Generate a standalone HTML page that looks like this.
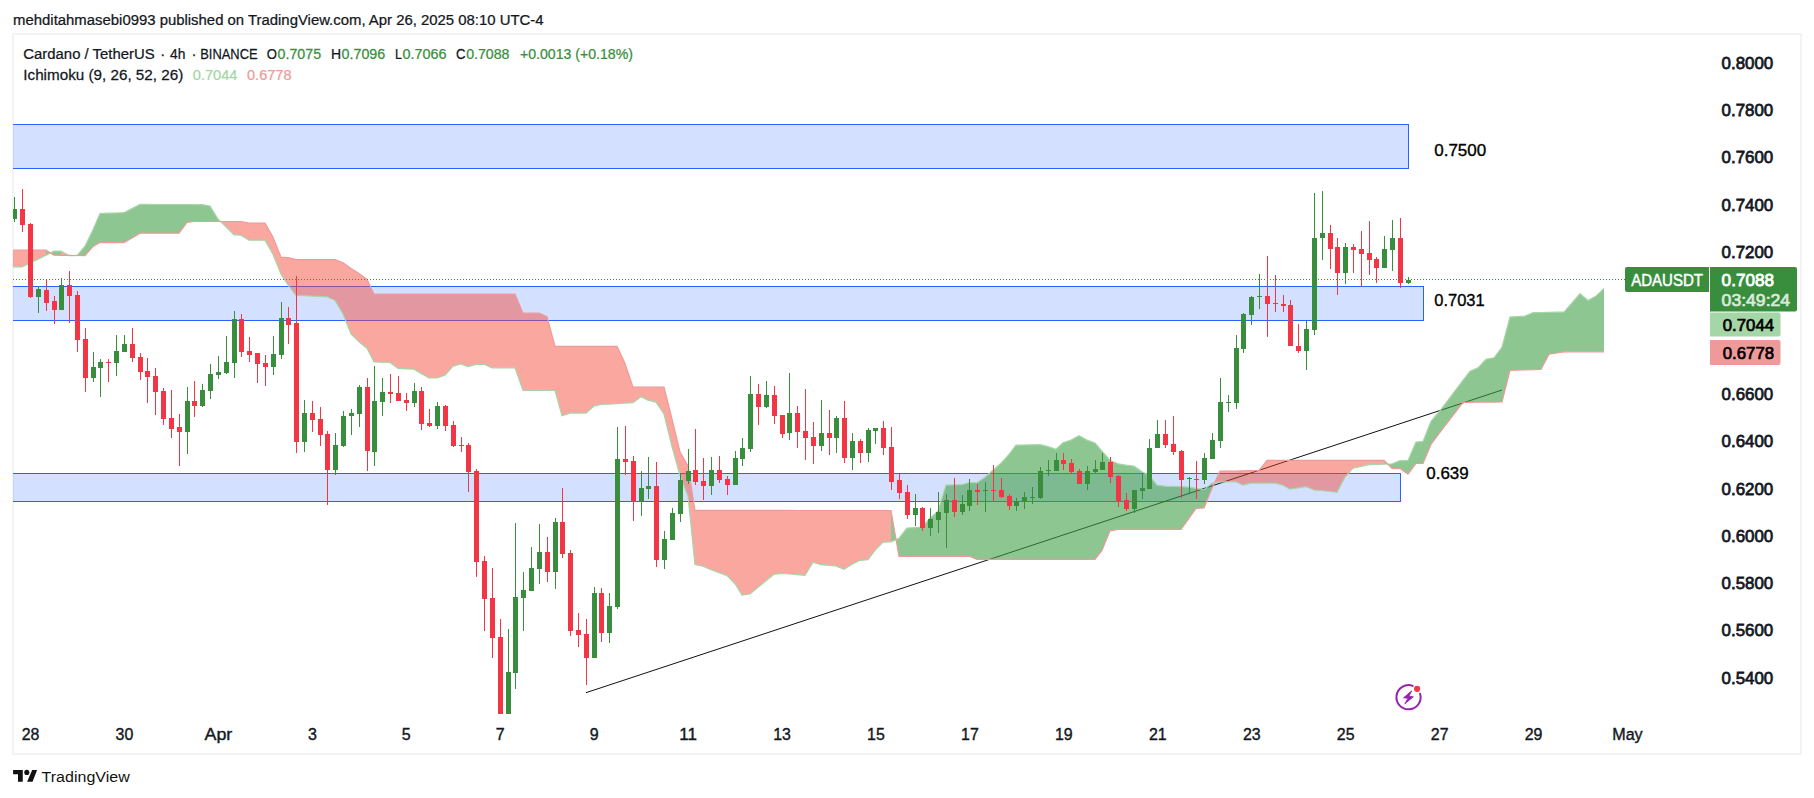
<!DOCTYPE html>
<html lang="en"><head><meta charset="utf-8"><title>ADAUSDT chart</title><style>html,body{margin:0;padding:0;background:#fff}body{width:1814px;height:798px;overflow:hidden}</style></head><body>
<svg width="1814" height="798" viewBox="0 0 1814 798" style="display:block">
<rect width="1814" height="798" fill="#fff"/>
<defs><clipPath id="pane"><rect x="13" y="34" width="1700" height="680"/></clipPath></defs>
<rect x="13" y="34" width="1788" height="720" fill="none" stroke="#F3F3F4" stroke-width="2"/>
<g clip-path="url(#pane)">
<rect x="0.5" y="124.5" width="1408" height="44" fill="rgba(41,98,255,0.2)" stroke="#2962FF" stroke-width="1" shape-rendering="crispEdges"/>
<rect x="0.5" y="286.5" width="1423" height="34" fill="rgba(41,98,255,0.2)" stroke="#2962FF" stroke-width="1" shape-rendering="crispEdges"/>
<rect x="0.5" y="473.5" width="1400" height="28" fill="rgba(41,98,255,0.2)" stroke="#2962FF" stroke-width="1" shape-rendering="crispEdges"/>
<line x1="586" y1="692.7" x2="1502" y2="390" stroke="#111" stroke-width="1"/>
<polygon points="7.0,266.9 14.0,266.9 22.0,266.9 30.0,263.0 38.0,259.1 46.0,255.2 46.0,250.2 38.0,250.2 30.0,250.2 22.0,250.2 14.0,250.2 7.0,250.2" fill="rgba(244,67,54,0.47)"/>
<polygon points="46.0,255.2 54.0,251.2 61.0,251.2 61.0,255.3 54.0,255.2 46.0,250.2" fill="rgba(67,160,71,0.6)"/>
<polygon points="61.0,251.2 69.0,255.6 77.0,255.6 77.0,255.5 69.0,255.4 61.0,255.3" fill="rgba(244,67,54,0.47)"/>
<polygon points="77.0,255.6 85.0,246.2 93.0,229.8 100.0,213.5 108.0,213.2 116.0,213.0 124.0,212.7 132.0,208.6 140.0,204.4 147.0,204.4 155.0,204.5 163.0,204.5 171.0,204.5 179.0,204.5 187.0,204.5 194.0,204.6 202.0,204.6 210.0,206.1 218.0,219.1 218.0,221.5 210.0,221.5 202.0,221.5 194.0,221.5 187.0,222.5 179.0,233.2 171.0,233.2 163.0,233.2 155.0,233.2 147.0,233.2 140.0,233.2 132.0,237.9 124.0,242.6 116.0,242.6 108.0,242.6 100.0,242.6 93.0,246.6 85.0,255.6 77.0,255.5" fill="rgba(67,160,71,0.6)"/>
<polygon points="218.0,219.1 226.0,226.9 234.0,234.8 241.0,235.2 249.0,240.2 257.0,240.2 265.0,240.2 273.0,254.2 281.0,274.3 288.0,284.8 296.0,295.3 304.0,295.7 312.0,296.1 320.0,296.4 327.0,296.8 335.0,300.4 343.0,314.0 351.0,334.0 359.0,341.9 367.0,348.3 374.0,362.0 382.0,362.2 390.0,362.4 398.0,368.4 406.0,368.8 414.0,369.2 421.0,373.6 429.0,378.0 437.0,378.0 445.0,375.2 453.0,366.2 461.0,364.0 468.0,366.6 476.0,364.4 484.0,364.2 492.0,367.8 500.0,367.8 508.0,367.8 515.0,367.8 523.0,390.3 531.0,390.4 539.0,390.4 547.0,390.4 555.0,390.5 562.0,415.8 570.0,413.1 578.0,413.1 586.0,413.1 594.0,406.1 601.0,404.5 609.0,404.1 617.0,403.6 625.0,403.1 633.0,402.7 641.0,396.7 648.0,400.1 656.0,402.1 664.0,414.0 672.0,446.5 680.0,475.5 688.0,496.0 695.0,564.5 703.0,566.2 711.0,569.7 719.0,572.7 727.0,575.6 735.0,583.8 742.0,595.0 750.0,594.0 758.0,587.3 766.0,580.8 774.0,574.3 782.0,573.3 789.0,574.0 797.0,574.6 805.0,575.3 813.0,562.3 821.0,564.7 829.0,565.3 836.0,565.9 844.0,569.3 852.0,564.3 860.0,560.3 868.0,559.7 875.0,550.3 883.0,542.2 891.0,541.8 891.0,510.5 883.0,510.5 875.0,510.5 868.0,510.5 860.0,510.5 852.0,510.5 844.0,510.5 836.0,510.5 829.0,510.5 821.0,510.5 813.0,510.5 805.0,510.5 797.0,510.5 789.0,510.4 782.0,510.4 774.0,510.4 766.0,510.4 758.0,510.4 750.0,510.4 742.0,510.4 735.0,510.4 727.0,510.4 719.0,510.4 711.0,510.4 703.0,510.4 695.0,510.4 688.0,466.0 680.0,452.0 672.0,419.0 664.0,387.2 656.0,387.2 648.0,387.2 641.0,387.2 633.0,387.2 625.0,363.4 617.0,346.3 609.0,346.3 601.0,346.3 594.0,346.3 586.0,346.3 578.0,346.3 570.0,346.3 562.0,346.3 555.0,346.3 547.0,316.6 539.0,313.2 531.0,313.2 523.0,313.2 515.0,294.2 508.0,294.2 500.0,294.2 492.0,294.2 484.0,294.2 476.0,294.2 468.0,294.2 461.0,294.2 453.0,294.2 445.0,294.2 437.0,294.2 429.0,294.2 421.0,294.2 414.0,294.2 406.0,294.2 398.0,294.2 390.0,294.2 382.0,294.2 374.0,294.2 367.0,279.5 359.0,273.6 351.0,268.4 343.0,262.7 335.0,259.6 327.0,259.6 320.0,259.6 312.0,259.6 304.0,259.6 296.0,259.6 288.0,257.6 281.0,257.2 273.0,237.2 265.0,223.1 257.0,223.1 249.0,223.1 241.0,221.5 234.0,221.5 226.0,221.5 218.0,221.5" fill="rgba(244,67,54,0.47)"/>
<polygon points="891.0,541.8 899.0,538.2 907.0,528.2 915.0,527.7 922.0,527.2 930.0,518.2 938.0,511.1 946.0,485.1 954.0,484.9 962.0,484.6 969.0,482.7 977.0,482.7 985.0,477.3 993.0,470.3 1001.0,463.3 1009.0,454.3 1016.0,445.2 1024.0,445.0 1032.0,444.8 1040.0,444.6 1048.0,446.6 1056.0,449.3 1063.0,442.8 1071.0,440.1 1079.0,435.7 1087.0,440.1 1095.0,443.1 1102.0,451.1 1110.0,460.2 1118.0,463.8 1126.0,465.2 1134.0,466.2 1142.0,471.8 1149.0,475.2 1157.0,485.2 1165.0,486.2 1173.0,486.4 1181.0,486.6 1189.0,487.2 1196.0,488.4 1204.0,489.7 1212.0,483.2 1212.0,488.2 1204.0,507.9 1196.0,508.3 1189.0,518.3 1181.0,529.4 1173.0,529.4 1165.0,529.4 1157.0,529.4 1149.0,529.4 1142.0,529.4 1134.0,529.4 1126.0,529.4 1118.0,529.4 1110.0,530.8 1102.0,550.4 1095.0,559.4 1087.0,559.4 1079.0,559.4 1071.0,559.4 1063.0,559.4 1056.0,559.4 1048.0,559.4 1040.0,559.4 1032.0,559.3 1024.0,559.3 1016.0,559.3 1009.0,559.3 1001.0,559.3 993.0,559.3 985.0,559.3 977.0,559.3 969.0,556.3 962.0,556.3 954.0,556.3 946.0,556.3 938.0,556.3 930.0,556.3 922.0,556.3 915.0,556.3 907.0,556.3 899.0,556.3 891.0,510.5" fill="rgba(67,160,71,0.6)"/>
<polygon points="1212.0,483.2 1220.0,481.8 1228.0,481.8 1236.0,481.8 1243.0,485.2 1251.0,483.2 1259.0,483.2 1267.0,483.2 1275.0,483.2 1283.0,485.2 1290.0,489.2 1298.0,487.9 1306.0,486.6 1314.0,489.9 1322.0,490.7 1330.0,491.5 1337.0,492.3 1345.0,477.2 1353.0,468.2 1361.0,466.4 1369.0,464.6 1376.0,464.4 1384.0,464.1 1384.0,460.4 1376.0,460.4 1369.0,460.4 1361.0,460.4 1353.0,460.4 1345.0,460.4 1337.0,460.4 1330.0,460.4 1322.0,460.4 1314.0,460.4 1306.0,460.4 1298.0,460.4 1290.0,460.4 1283.0,460.4 1275.0,460.4 1267.0,460.4 1259.0,470.6 1251.0,470.7 1243.0,470.8 1236.0,471.0 1228.0,471.1 1220.0,471.2 1212.0,488.2" fill="rgba(244,67,54,0.47)"/>
<polygon points="1384.0,464.1 1392.0,464.0 1400.0,460.6 1408.0,460.6 1416.0,442.0 1423.0,441.5 1431.0,421.4 1439.0,412.0 1447.0,401.5 1455.0,390.9 1463.0,380.3 1470.0,371.3 1478.0,367.9 1486.0,359.2 1494.0,357.8 1502.0,347.2 1510.0,317.1 1517.0,316.6 1525.0,316.1 1533.0,312.7 1541.0,312.5 1549.0,312.4 1557.0,312.2 1564.0,312.1 1572.0,302.9 1580.0,293.7 1588.0,300.5 1596.0,296.1 1604.0,288.5 1604.0,351.8 1596.0,351.8 1588.0,351.8 1580.0,351.8 1572.0,351.8 1564.0,351.8 1557.0,353.0 1549.0,354.2 1541.0,369.3 1533.0,369.6 1525.0,369.8 1517.0,370.1 1510.0,370.3 1502.0,402.0 1494.0,402.1 1486.0,402.2 1478.0,402.2 1470.0,402.3 1463.0,402.4 1455.0,412.8 1447.0,423.2 1439.0,433.6 1431.0,444.4 1423.0,463.5 1416.0,463.5 1408.0,474.1 1400.0,468.6 1392.0,468.4 1384.0,460.4" fill="rgba(67,160,71,0.6)"/>
<polyline points="7.0,266.9 14.0,266.9 22.0,266.9 30.0,263.0 38.0,259.1 46.0,255.2 54.0,251.2 61.0,251.2 69.0,255.6 77.0,255.6 85.0,246.2 93.0,229.8 100.0,213.5 108.0,213.2 116.0,213.0 124.0,212.7 132.0,208.6 140.0,204.4 147.0,204.4 155.0,204.5 163.0,204.5 171.0,204.5 179.0,204.5 187.0,204.5 194.0,204.6 202.0,204.6 210.0,206.1 218.0,219.1 226.0,226.9 234.0,234.8 241.0,235.2 249.0,240.2 257.0,240.2 265.0,240.2 273.0,254.2 281.0,274.3 288.0,284.8 296.0,295.3 304.0,295.7 312.0,296.1 320.0,296.4 327.0,296.8 335.0,300.4 343.0,314.0 351.0,334.0 359.0,341.9 367.0,348.3 374.0,362.0 382.0,362.2 390.0,362.4 398.0,368.4 406.0,368.8 414.0,369.2 421.0,373.6 429.0,378.0 437.0,378.0 445.0,375.2 453.0,366.2 461.0,364.0 468.0,366.6 476.0,364.4 484.0,364.2 492.0,367.8 500.0,367.8 508.0,367.8 515.0,367.8 523.0,390.3 531.0,390.4 539.0,390.4 547.0,390.4 555.0,390.5 562.0,415.8 570.0,413.1 578.0,413.1 586.0,413.1 594.0,406.1 601.0,404.5 609.0,404.1 617.0,403.6 625.0,403.1 633.0,402.7 641.0,396.7 648.0,400.1 656.0,402.1 664.0,414.0 672.0,446.5 680.0,475.5 688.0,496.0 695.0,564.5 703.0,566.2 711.0,569.7 719.0,572.7 727.0,575.6 735.0,583.8 742.0,595.0 750.0,594.0 758.0,587.3 766.0,580.8 774.0,574.3 782.0,573.3 789.0,574.0 797.0,574.6 805.0,575.3 813.0,562.3 821.0,564.7 829.0,565.3 836.0,565.9 844.0,569.3 852.0,564.3 860.0,560.3 868.0,559.7 875.0,550.3 883.0,542.2 891.0,541.8 899.0,538.2 907.0,528.2 915.0,527.7 922.0,527.2 930.0,518.2 938.0,511.1 946.0,485.1 954.0,484.9 962.0,484.6 969.0,482.7 977.0,482.7 985.0,477.3 993.0,470.3 1001.0,463.3 1009.0,454.3 1016.0,445.2 1024.0,445.0 1032.0,444.8 1040.0,444.6 1048.0,446.6 1056.0,449.3 1063.0,442.8 1071.0,440.1 1079.0,435.7 1087.0,440.1 1095.0,443.1 1102.0,451.1 1110.0,460.2 1118.0,463.8 1126.0,465.2 1134.0,466.2 1142.0,471.8 1149.0,475.2 1157.0,485.2 1165.0,486.2 1173.0,486.4 1181.0,486.6 1189.0,487.2 1196.0,488.4 1204.0,489.7 1212.0,483.2 1220.0,481.8 1228.0,481.8 1236.0,481.8 1243.0,485.2 1251.0,483.2 1259.0,483.2 1267.0,483.2 1275.0,483.2 1283.0,485.2 1290.0,489.2 1298.0,487.9 1306.0,486.6 1314.0,489.9 1322.0,490.7 1330.0,491.5 1337.0,492.3 1345.0,477.2 1353.0,468.2 1361.0,466.4 1369.0,464.6 1376.0,464.4 1384.0,464.1 1392.0,464.0 1400.0,460.6 1408.0,460.6 1416.0,442.0 1423.0,441.5 1431.0,421.4 1439.0,412.0 1447.0,401.5 1455.0,390.9 1463.0,380.3 1470.0,371.3 1478.0,367.9 1486.0,359.2 1494.0,357.8 1502.0,347.2 1510.0,317.1 1517.0,316.6 1525.0,316.1 1533.0,312.7 1541.0,312.5 1549.0,312.4 1557.0,312.2 1564.0,312.1 1572.0,302.9 1580.0,293.7 1588.0,300.5 1596.0,296.1 1604.0,288.5" fill="none" stroke="#A5D6A7" stroke-width="1.2"/>
<polyline points="7.0,250.2 14.0,250.2 22.0,250.2 30.0,250.2 38.0,250.2 46.0,250.2 54.0,255.2 61.0,255.3 69.0,255.4 77.0,255.5 85.0,255.6 93.0,246.6 100.0,242.6 108.0,242.6 116.0,242.6 124.0,242.6 132.0,237.9 140.0,233.2 147.0,233.2 155.0,233.2 163.0,233.2 171.0,233.2 179.0,233.2 187.0,222.5 194.0,221.5 202.0,221.5 210.0,221.5 218.0,221.5 226.0,221.5 234.0,221.5 241.0,221.5 249.0,223.1 257.0,223.1 265.0,223.1 273.0,237.2 281.0,257.2 288.0,257.6 296.0,259.6 304.0,259.6 312.0,259.6 320.0,259.6 327.0,259.6 335.0,259.6 343.0,262.7 351.0,268.4 359.0,273.6 367.0,279.5 374.0,294.2 382.0,294.2 390.0,294.2 398.0,294.2 406.0,294.2 414.0,294.2 421.0,294.2 429.0,294.2 437.0,294.2 445.0,294.2 453.0,294.2 461.0,294.2 468.0,294.2 476.0,294.2 484.0,294.2 492.0,294.2 500.0,294.2 508.0,294.2 515.0,294.2 523.0,313.2 531.0,313.2 539.0,313.2 547.0,316.6 555.0,346.3 562.0,346.3 570.0,346.3 578.0,346.3 586.0,346.3 594.0,346.3 601.0,346.3 609.0,346.3 617.0,346.3 625.0,363.4 633.0,387.2 641.0,387.2 648.0,387.2 656.0,387.2 664.0,387.2 672.0,419.0 680.0,452.0 688.0,466.0 695.0,510.4 703.0,510.4 711.0,510.4 719.0,510.4 727.0,510.4 735.0,510.4 742.0,510.4 750.0,510.4 758.0,510.4 766.0,510.4 774.0,510.4 782.0,510.4 789.0,510.4 797.0,510.5 805.0,510.5 813.0,510.5 821.0,510.5 829.0,510.5 836.0,510.5 844.0,510.5 852.0,510.5 860.0,510.5 868.0,510.5 875.0,510.5 883.0,510.5 891.0,510.5 899.0,556.3 907.0,556.3 915.0,556.3 922.0,556.3 930.0,556.3 938.0,556.3 946.0,556.3 954.0,556.3 962.0,556.3 969.0,556.3 977.0,559.3 985.0,559.3 993.0,559.3 1001.0,559.3 1009.0,559.3 1016.0,559.3 1024.0,559.3 1032.0,559.3 1040.0,559.4 1048.0,559.4 1056.0,559.4 1063.0,559.4 1071.0,559.4 1079.0,559.4 1087.0,559.4 1095.0,559.4 1102.0,550.4 1110.0,530.8 1118.0,529.4 1126.0,529.4 1134.0,529.4 1142.0,529.4 1149.0,529.4 1157.0,529.4 1165.0,529.4 1173.0,529.4 1181.0,529.4 1189.0,518.3 1196.0,508.3 1204.0,507.9 1212.0,488.2 1220.0,471.2 1228.0,471.1 1236.0,471.0 1243.0,470.8 1251.0,470.7 1259.0,470.6 1267.0,460.4 1275.0,460.4 1283.0,460.4 1290.0,460.4 1298.0,460.4 1306.0,460.4 1314.0,460.4 1322.0,460.4 1330.0,460.4 1337.0,460.4 1345.0,460.4 1353.0,460.4 1361.0,460.4 1369.0,460.4 1376.0,460.4 1384.0,460.4 1392.0,468.4 1400.0,468.6 1408.0,474.1 1416.0,463.5 1423.0,463.5 1431.0,444.4 1439.0,433.6 1447.0,423.2 1455.0,412.8 1463.0,402.4 1470.0,402.3 1478.0,402.2 1486.0,402.2 1494.0,402.1 1502.0,402.0 1510.0,370.3 1517.0,370.1 1525.0,369.8 1533.0,369.6 1541.0,369.3 1549.0,354.2 1557.0,353.0 1564.0,351.8 1572.0,351.8 1580.0,351.8 1588.0,351.8 1596.0,351.8 1604.0,351.8" fill="none" stroke="#EF9A9A" stroke-width="1.2"/>
<path d="M14 197h1v25h-1zM12 209h5v10h-5zM38 286h1v27h-1zM36 289h5v8h-5zM61 278h1v32h-1zM59 285h5v25h-5zM93 352h1v30h-1zM91 367h5v11h-5zM100 359h1v38h-1zM98 362h5v6h-5zM116 335h1v41h-1zM114 351h5v12h-5zM124 335h1v17h-1zM122 344h5v8h-5zM187 387h1v67h-1zM185 401h5v31h-5zM202 384h1v23h-1zM200 390h5v16h-5zM210 364h1v35h-1zM208 374h5v17h-5zM218 356h1v23h-1zM216 372h5v3h-5zM226 336h1v38h-1zM224 362h5v11h-5zM234 311h1v67h-1zM232 319h5v44h-5zM273 336h1v39h-1zM271 354h5v13h-5zM281 302h1v57h-1zM279 318h5v37h-5zM304 400h1v52h-1zM302 413h5v29h-5zM335 433h1v42h-1zM333 445h5v25h-5zM343 411h1v36h-1zM341 416h5v30h-5zM351 409h1v26h-1zM349 413h5v3h-5zM359 385h1v42h-1zM357 387h5v27h-5zM374 366h1v100h-1zM372 401h5v51h-5zM382 378h1v38h-1zM380 392h5v10h-5zM414 383h1v24h-1zM412 391h5v12h-5zM437 402h1v27h-1zM435 406h5v20h-5zM508 629h1v91h-1zM506 672h5v48h-5zM515 523h1v166h-1zM513 597h5v76h-5zM523 572h1v59h-1zM521 590h5v8h-5zM531 547h1v44h-1zM529 568h5v23h-5zM539 524h1v60h-1zM537 552h5v17h-5zM555 518h1v71h-1zM553 522h5v50h-5zM594 587h1v71h-1zM592 593h5v65h-5zM609 593h1v50h-1zM607 606h5v27h-5zM617 427h1v182h-1zM615 459h5v148h-5zM641 471h1v45h-1zM639 488h5v13h-5zM648 457h1v42h-1zM646 486h5v3h-5zM664 531h1v38h-1zM662 539h5v21h-5zM672 508h1v32h-1zM670 513h5v27h-5zM680 473h1v49h-1zM678 480h5v34h-5zM688 449h1v35h-1zM686 471h5v10h-5zM711 457h1v38h-1zM709 470h5v16h-5zM735 451h1v34h-1zM733 458h5v27h-5zM742 438h1v28h-1zM740 448h5v11h-5zM750 376h1v76h-1zM748 394h5v55h-5zM766 381h1v27h-1zM764 395h5v12h-5zM789 373h1v67h-1zM787 413h5v20h-5zM821 400h1v51h-1zM819 433h5v13h-5zM836 416h1v37h-1zM834 418h5v20h-5zM852 433h1v37h-1zM850 441h5v17h-5zM868 428h1v34h-1zM866 430h5v23h-5zM875 428h1v16h-1zM873 428h5v3h-5zM915 494h1v32h-1zM913 508h5v7h-5zM930 508h1v28h-1zM928 519h5v9h-5zM938 492h1v41h-1zM936 512h5v8h-5zM946 494h1v54h-1zM944 500h5v13h-5zM962 495h1v20h-1zM960 504h5v8h-5zM969 479h1v32h-1zM967 490h5v16h-5zM985 482h1v30h-1zM983 490h5v1h-5zM1016 498h1v13h-1zM1014 501h5v5h-5zM1024 492h1v17h-1zM1022 497h5v5h-5zM1032 487h1v17h-1zM1030 497h5v1h-5zM1040 467h1v32h-1zM1038 471h5v27h-5zM1048 460h1v16h-1zM1046 470h5v1h-5zM1056 453h1v18h-1zM1054 460h5v11h-5zM1087 466h1v24h-1zM1085 471h5v13h-5zM1095 460h1v13h-1zM1093 469h5v3h-5zM1102 453h1v17h-1zM1100 462h5v8h-5zM1134 490h1v23h-1zM1132 490h5v19h-5zM1142 473h1v26h-1zM1140 488h5v3h-5zM1149 439h1v50h-1zM1147 448h5v41h-5zM1157 420h1v28h-1zM1155 434h5v14h-5zM1189 477h1v16h-1zM1187 478h5v1h-5zM1204 453h1v31h-1zM1202 458h5v22h-5zM1212 433h1v26h-1zM1210 440h5v19h-5zM1220 378h1v70h-1zM1218 402h5v39h-5zM1228 395h1v17h-1zM1226 402h5v1h-5zM1236 335h1v74h-1zM1234 348h5v55h-5zM1243 313h1v40h-1zM1241 314h5v35h-5zM1251 296h1v29h-1zM1249 297h5v18h-5zM1259 274h1v35h-1zM1257 296h5v1h-5zM1306 321h1v49h-1zM1304 329h5v22h-5zM1314 193h1v142h-1zM1312 238h5v92h-5zM1322 191h1v69h-1zM1320 233h5v5h-5zM1345 243h1v41h-1zM1343 247h5v26h-5zM1384 236h1v32h-1zM1382 249h5v19h-5zM1392 220h1v51h-1zM1390 238h5v12h-5zM1408 277h1v7h-1zM1406 280h5v3h-5z" fill="#388E3C" shape-rendering="crispEdges"/>
<path d="M22 189h1v43h-1zM20 209h5v16h-5zM30 223h1v75h-1zM28 224h5v73h-5zM46 279h1v32h-1zM44 290h5v13h-5zM54 296h1v28h-1zM52 301h5v9h-5zM69 271h1v52h-1zM67 285h5v11h-5zM77 291h1v61h-1zM75 295h5v45h-5zM85 328h1v64h-1zM83 339h5v39h-5zM108 359h1v23h-1zM106 362h5v1h-5zM132 328h1v34h-1zM130 344h5v14h-5zM140 353h1v27h-1zM138 357h5v15h-5zM147 358h1v45h-1zM145 371h5v6h-5zM155 368h1v47h-1zM153 376h5v16h-5zM163 388h1v37h-1zM161 391h5v28h-5zM171 390h1v48h-1zM169 418h5v11h-5zM179 414h1v52h-1zM177 427h5v5h-5zM194 381h1v36h-1zM192 401h5v5h-5zM241 314h1v43h-1zM239 319h5v33h-5zM249 337h1v25h-1zM247 351h5v4h-5zM257 353h1v30h-1zM255 353h5v11h-5zM265 355h1v31h-1zM263 363h5v4h-5zM288 307h1v37h-1zM286 318h5v7h-5zM296 276h1v177h-1zM294 323h5v119h-5zM312 401h1v31h-1zM310 413h5v7h-5zM320 407h1v39h-1zM318 419h5v16h-5zM327 431h1v74h-1zM325 434h5v36h-5zM367 378h1v93h-1zM365 387h5v64h-5zM390 374h1v29h-1zM388 392h5v2h-5zM398 376h1v25h-1zM396 393h5v8h-5zM406 393h1v18h-1zM404 400h5v3h-5zM421 387h1v43h-1zM419 391h5v33h-5zM429 409h1v18h-1zM427 423h5v3h-5zM445 405h1v26h-1zM443 406h5v20h-5zM453 421h1v26h-1zM451 425h5v21h-5zM461 437h1v15h-1zM459 445h5v1h-5zM468 443h1v49h-1zM466 445h5v27h-5zM476 469h1v108h-1zM474 471h5v91h-5zM484 556h1v75h-1zM482 561h5v38h-5zM492 568h1v90h-1zM490 598h5v40h-5zM500 619h1v101h-1zM498 637h5v83h-5zM547 537h1v45h-1zM545 552h5v20h-5zM562 488h1v70h-1zM560 522h5v32h-5zM570 550h1v86h-1zM568 553h5v78h-5zM578 613h1v34h-1zM576 630h5v5h-5zM586 619h1v66h-1zM584 634h5v24h-5zM601 588h1v54h-1zM599 593h5v40h-5zM625 426h1v49h-1zM623 459h5v3h-5zM633 456h1v65h-1zM631 461h5v41h-5zM656 462h1v105h-1zM654 486h5v74h-5zM695 429h1v56h-1zM693 470h5v12h-5zM703 458h1v42h-1zM701 481h5v5h-5zM719 456h1v27h-1zM717 470h5v10h-5zM727 476h1v19h-1zM725 479h5v6h-5zM758 384h1v41h-1zM756 394h5v13h-5zM774 386h1v38h-1zM772 395h5v21h-5zM782 415h1v23h-1zM780 415h5v19h-5zM797 406h1v42h-1zM795 413h5v19h-5zM805 389h1v71h-1zM803 431h5v7h-5zM813 422h1v42h-1zM811 437h5v9h-5zM829 410h1v45h-1zM827 433h5v5h-5zM844 401h1v62h-1zM842 418h5v40h-5zM860 439h1v24h-1zM858 441h5v12h-5zM883 421h1v34h-1zM881 428h5v20h-5zM891 427h1v63h-1zM889 447h5v35h-5zM899 474h1v25h-1zM897 480h5v13h-5zM907 485h1v34h-1zM905 492h5v23h-5zM922 507h1v24h-1zM920 508h5v20h-5zM954 478h1v39h-1zM952 500h5v12h-5zM977 484h1v21h-1zM975 490h5v2h-5zM993 465h1v36h-1zM991 490h5v1h-5zM1001 478h1v20h-1zM999 490h5v7h-5zM1009 494h1v16h-1zM1007 496h5v10h-5zM1063 453h1v17h-1zM1061 460h5v4h-5zM1071 459h1v15h-1zM1069 463h5v9h-5zM1079 469h1v15h-1zM1077 471h5v13h-5zM1110 457h1v26h-1zM1108 462h5v15h-5zM1118 475h1v32h-1zM1116 476h5v25h-5zM1126 493h1v18h-1zM1124 500h5v9h-5zM1165 420h1v28h-1zM1163 434h5v11h-5zM1173 416h1v39h-1zM1171 444h5v8h-5zM1181 450h1v48h-1zM1179 451h5v29h-5zM1196 461h1v38h-1zM1194 479h5v1h-5zM1267 256h1v81h-1zM1265 296h5v8h-5zM1275 275h1v37h-1zM1273 303h5v1h-5zM1283 295h1v17h-1zM1281 304h5v2h-5zM1290 300h1v46h-1zM1288 305h5v41h-5zM1298 324h1v29h-1zM1296 346h5v5h-5zM1330 225h1v44h-1zM1328 233h5v16h-5zM1337 238h1v57h-1zM1335 247h5v26h-5zM1353 244h1v29h-1zM1351 247h5v3h-5zM1361 231h1v56h-1zM1359 249h5v5h-5zM1369 221h1v54h-1zM1367 253h5v7h-5zM1376 257h1v26h-1zM1374 259h5v9h-5zM1400 218h1v70h-1zM1398 238h5v45h-5z" fill="#F23645" shape-rendering="crispEdges"/>
</g>
<line x1="13" y1="279.5" x2="1625" y2="279.5" stroke="#388E3C" stroke-width="1" stroke-dasharray="1 2" shape-rendering="crispEdges"/>
<g transform="translate(1408.5 697.3)"><path d="M4.2 -11.4A12.1 12.1 0 1 0 11.6 -3.6" fill="none" stroke="#9423AF" stroke-width="2" stroke-linecap="round"/><path d="M3.2 -6.4L-4.9 0.5L-0.4 0.85L-3.7 6.5L4.85 -0.5L0.3 -0.85Z" fill="#9423AF" stroke="#9423AF" stroke-width="0.9" stroke-linejoin="round"/><circle cx="8.6" cy="-8.5" r="3.1" fill="#F23645"/></g>
<g font-family='"Liberation Sans", sans-serif' style="white-space:pre">
<text transform="translate(13.1 24.9) scale(0.9941 1)" font-size="15" fill="#131722" stroke="#131722" stroke-width="0.25">mehditahmasebi0993 published on TradingView.com, Apr 26, 2025 08:10 UTC-4</text>
<text transform="translate(23.3 59.1) scale(0.9939 1)" font-size="15" fill="#131722" stroke="#131722" stroke-width="0.25">Cardano / TetherUS</text>
<text transform="translate(160.3 59.1)" font-size="15" fill="#131722" stroke="#131722" stroke-width="0.25">·</text>
<text transform="translate(170.0 59.1) scale(0.9230 1)" font-size="15" fill="#131722" stroke="#131722" stroke-width="0.25">4h</text>
<text transform="translate(191.6 59.1)" font-size="15" fill="#131722" stroke="#131722" stroke-width="0.25">·</text>
<text transform="translate(200.2 59.1) scale(0.8608 1)" font-size="15" fill="#131722" stroke="#131722" stroke-width="0.25">BINANCE</text>
<text transform="translate(266.8 59.1) scale(0.8742 1)" font-size="15" fill="#131722" stroke="#131722" stroke-width="0.25">O</text>
<text transform="translate(277.6 59.1) scale(0.9481 1)" font-size="15" fill="#388E3C" stroke="#388E3C" stroke-width="0.25">0.7075</text>
<text transform="translate(330.9 59.1) scale(0.9324 1)" font-size="15" fill="#131722" stroke="#131722" stroke-width="0.25">H</text>
<text transform="translate(341.6 59.1) scale(0.9503 1)" font-size="15" fill="#388E3C" stroke="#388E3C" stroke-width="0.25">0.7096</text>
<text transform="translate(395.0 59.1) scale(0.8391 1)" font-size="15" fill="#131722" stroke="#131722" stroke-width="0.25">L</text>
<text transform="translate(402.5 59.1) scale(0.9590 1)" font-size="15" fill="#388E3C" stroke="#388E3C" stroke-width="0.25">0.7066</text>
<text transform="translate(456.1 59.1) scale(0.8770 1)" font-size="15" fill="#131722" stroke="#131722" stroke-width="0.25">C</text>
<text transform="translate(466.2 59.1) scale(0.9438 1)" font-size="15" fill="#388E3C" stroke="#388E3C" stroke-width="0.25">0.7088</text>
<text transform="translate(519.9 59.1) scale(0.9418 1)" font-size="15" fill="#388E3C" stroke="#388E3C" stroke-width="0.25">+0.0013 (+0.18%)</text>
<text transform="translate(23.3 80.0) scale(1.0160 1)" font-size="15" fill="#131722" stroke="#131722" stroke-width="0.25">Ichimoku (9, 26, 52, 26)</text>
<text transform="translate(192.8 80.0) scale(0.9721 1)" font-size="15" fill="#A5D6A7" stroke="#A5D6A7" stroke-width="0.25">0.7044</text>
<text transform="translate(247.0 80.0) scale(0.9721 1)" font-size="15" fill="#EF9A9A" stroke="#EF9A9A" stroke-width="0.25">0.6778</text>
<text transform="translate(1721.6 68.7) scale(0.9943 1)" font-size="17" fill="#131722" stroke="#131722" stroke-width="0.75">0.8000</text>
<text transform="translate(1721.6 116.0) scale(0.9943 1)" font-size="17" fill="#131722" stroke="#131722" stroke-width="0.75">0.7800</text>
<text transform="translate(1721.6 163.3) scale(0.9943 1)" font-size="17" fill="#131722" stroke="#131722" stroke-width="0.75">0.7600</text>
<text transform="translate(1721.6 210.6) scale(0.9943 1)" font-size="17" fill="#131722" stroke="#131722" stroke-width="0.75">0.7400</text>
<text transform="translate(1721.6 258.0) scale(0.9943 1)" font-size="17" fill="#131722" stroke="#131722" stroke-width="0.75">0.7200</text>
<text transform="translate(1721.6 399.9) scale(0.9943 1)" font-size="17" fill="#131722" stroke="#131722" stroke-width="0.75">0.6600</text>
<text transform="translate(1721.6 447.2) scale(0.9943 1)" font-size="17" fill="#131722" stroke="#131722" stroke-width="0.75">0.6400</text>
<text transform="translate(1721.6 494.5) scale(0.9943 1)" font-size="17" fill="#131722" stroke="#131722" stroke-width="0.75">0.6200</text>
<text transform="translate(1721.6 541.8) scale(0.9943 1)" font-size="17" fill="#131722" stroke="#131722" stroke-width="0.75">0.6000</text>
<text transform="translate(1721.6 589.1) scale(0.9943 1)" font-size="17" fill="#131722" stroke="#131722" stroke-width="0.75">0.5800</text>
<text transform="translate(1721.6 636.4) scale(0.9943 1)" font-size="17" fill="#131722" stroke="#131722" stroke-width="0.75">0.5600</text>
<text transform="translate(1721.6 683.7) scale(0.9943 1)" font-size="17" fill="#131722" stroke="#131722" stroke-width="0.75">0.5400</text>
<text transform="translate(1434.2 155.9) scale(1.0020 1)" font-size="17" fill="#000" stroke="#000" stroke-width="0.35">0.7500</text>
<text transform="translate(1434.2 305.8) scale(0.9712 1)" font-size="17" fill="#000" stroke="#000" stroke-width="0.35">0.7031</text>
<text transform="translate(1426.3 478.9) scale(0.9967 1)" font-size="17" fill="#000" stroke="#000" stroke-width="0.35">0.639</text>
<text transform="translate(21.7 739.7) scale(0.9360 1)" font-size="17" fill="#131722" stroke="#131722" stroke-width="0.4">28</text>
<text transform="translate(115.6 739.7) scale(0.9360 1)" font-size="17" fill="#131722" stroke="#131722" stroke-width="0.4">30</text>
<text transform="translate(204.5 739.7) scale(1.0508 1)" font-size="17" fill="#131722" stroke="#131722" stroke-width="0.4">Apr</text>
<text transform="translate(307.9 739.7) scale(0.9413 1)" font-size="17" fill="#131722" stroke="#131722" stroke-width="0.4">3</text>
<text transform="translate(401.8 739.7) scale(0.9413 1)" font-size="17" fill="#131722" stroke="#131722" stroke-width="0.4">5</text>
<text transform="translate(495.8 739.7) scale(0.9413 1)" font-size="17" fill="#131722" stroke="#131722" stroke-width="0.4">7</text>
<text transform="translate(589.7 739.7) scale(0.9413 1)" font-size="17" fill="#131722" stroke="#131722" stroke-width="0.4">9</text>
<text transform="translate(679.2 739.7) scale(1.0029 1)" font-size="17" fill="#131722" stroke="#131722" stroke-width="0.4">11</text>
<text transform="translate(773.2 739.7) scale(0.9360 1)" font-size="17" fill="#131722" stroke="#131722" stroke-width="0.4">13</text>
<text transform="translate(867.1 739.7) scale(0.9360 1)" font-size="17" fill="#131722" stroke="#131722" stroke-width="0.4">15</text>
<text transform="translate(961.1 739.7) scale(0.9360 1)" font-size="17" fill="#131722" stroke="#131722" stroke-width="0.4">17</text>
<text transform="translate(1055.0 739.7) scale(0.9360 1)" font-size="17" fill="#131722" stroke="#131722" stroke-width="0.4">19</text>
<text transform="translate(1148.9 739.7) scale(0.9360 1)" font-size="17" fill="#131722" stroke="#131722" stroke-width="0.4">21</text>
<text transform="translate(1242.9 739.7) scale(0.9360 1)" font-size="17" fill="#131722" stroke="#131722" stroke-width="0.4">23</text>
<text transform="translate(1336.8 739.7) scale(0.9360 1)" font-size="17" fill="#131722" stroke="#131722" stroke-width="0.4">25</text>
<text transform="translate(1430.8 739.7) scale(0.9360 1)" font-size="17" fill="#131722" stroke="#131722" stroke-width="0.4">27</text>
<text transform="translate(1524.7 739.7) scale(0.9360 1)" font-size="17" fill="#131722" stroke="#131722" stroke-width="0.4">29</text>
<text transform="translate(1612.2 739.7) scale(0.9497 1)" font-size="17" fill="#131722" stroke="#131722" stroke-width="0.4">May</text>
<path d="M1627 267h82v25h-82a2 2 0 0 1-2-2v-21a2 2 0 0 1 2-2z" fill="#388E3C"/>
<text transform="translate(1631.2 285.8) scale(0.8839 1)" font-size="17" fill="#fff" stroke="#fff" stroke-width="0.5">ADAUSDT</text>
<path d="M1710 267h85a2 2 0 0 1 2 2v40.5a2 2 0 0 1-2 2h-85z" fill="#388E3C"/>
<text transform="translate(1721.6 285.8) scale(1.0097 1)" font-size="17" fill="#fff" stroke="#fff" stroke-width="0.8">0.7088</text>
<text transform="translate(1721.6 305.6) scale(1.0366 1)" font-size="17" fill="#fff" stroke="#fff" stroke-width="0.7" opacity="0.82">03:49:24</text>
<path d="M1710 312.5h68.5a2 2 0 0 1 2 2v20a2 2 0 0 1-2 2h-68.5z" fill="#A5D6A7"/>
<text transform="translate(1722.8 331.0) scale(0.9866 1)" font-size="17" fill="#000" stroke="#000" stroke-width="0.7">0.7044</text>
<path d="M1710 340h68.5a2 2 0 0 1 2 2v21a2 2 0 0 1-2 2h-68.5z" fill="#EF9A9A"/>
<text transform="translate(1722.8 358.9) scale(0.9866 1)" font-size="17" fill="#000" stroke="#000" stroke-width="0.7">0.6778</text>
<path d="M13.1 770.1H22.75V781.8H18V774.3H13.1Z" fill="#111"/>
<circle cx="26.8" cy="772.4" r="2.55" fill="#111"/>
<path d="M32.2 770.1H37.1L32.55 781.8H27.1Z" fill="#111"/>
<text transform="translate(41.6 781.9) scale(1.0475 1)" font-size="15.3" fill="#111">TradingView</text>
</g>
</svg>
</body></html>
